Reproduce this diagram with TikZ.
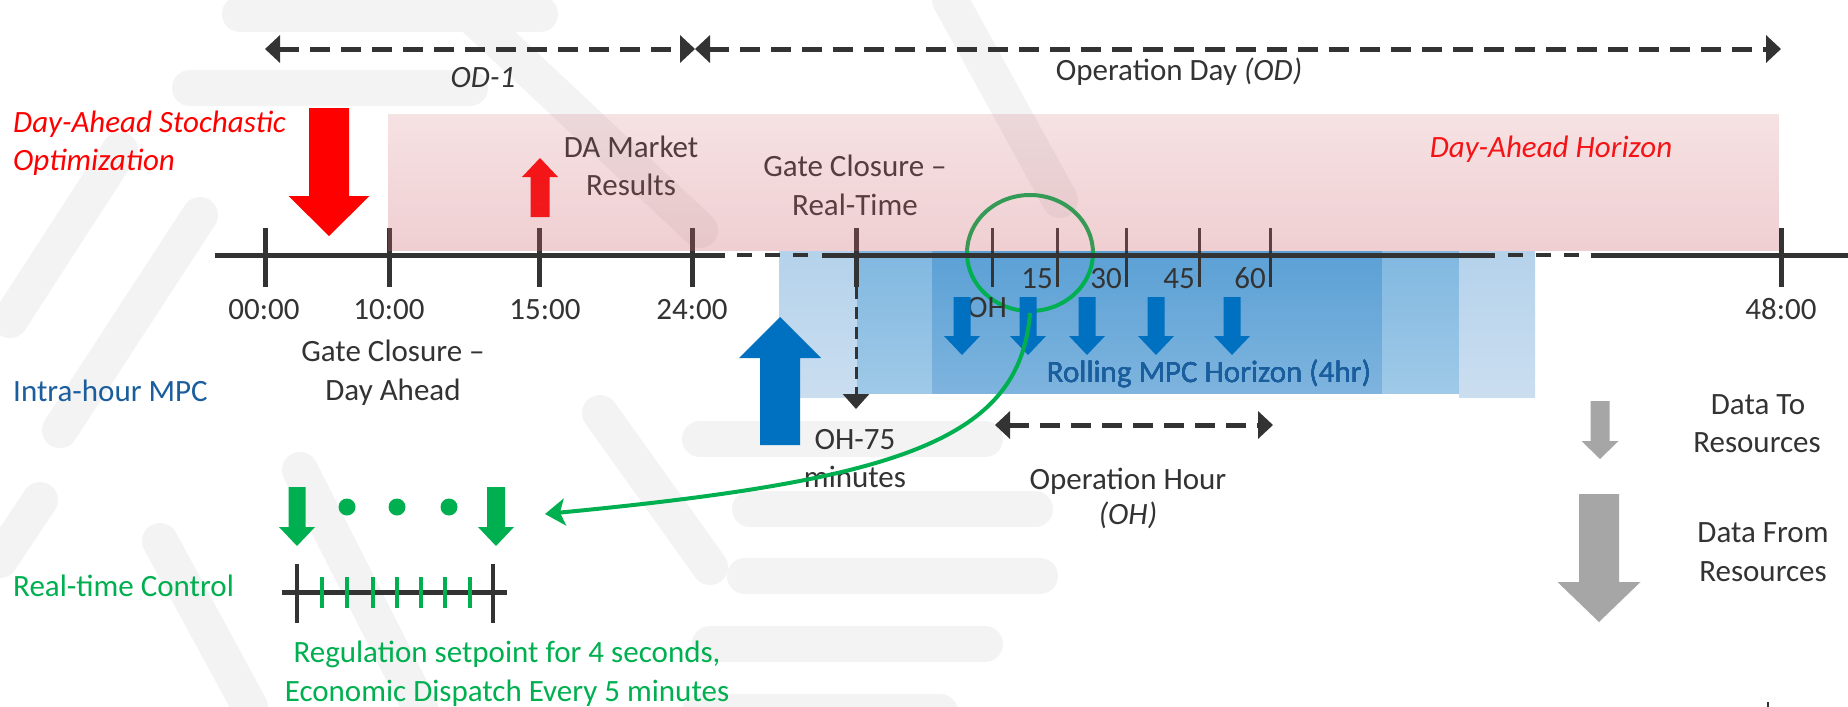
\documentclass[tikz,border=0pt]{standalone}
\usepackage{fontspec}
\setmainfont{Carlito}
\usetikzlibrary{arrows.meta,fadings,shapes.geometric}

\definecolor{ink}{HTML}{333333}
\definecolor{daRed}{HTML}{FF0000}
\definecolor{mpcBlue}{HTML}{0070C0}
\definecolor{mpcText}{HTML}{1A5E9E}
\definecolor{rtGreen}{HTML}{00B050}
\definecolor{dataGray}{HTML}{A6A6A6}
\definecolor{daPink}{RGB}{205,95,105}
\definecolor{wmGray}{HTML}{F3F3F3}
\definecolor{blueA1}{RGB}{180,210,235}
\definecolor{blueA2}{RGB}{203,222,240}
\definecolor{blueB1}{RGB}{129,184,224}
\definecolor{blueB2}{RGB}{159,201,231}
\definecolor{blueC1}{RGB}{91,160,213}
\definecolor{blueC2}{RGB}{126,180,222}

\tikzfading[name=pinkfade, top color=transparent!82, bottom color=transparent!70]

% block arrow: colour, centre x, shaft start y, head base y, tip y, shaft half width, head half width
\newcommand\blockarrow[7]{%
  \fill[#1] (#2-#6,#3) -- (#2+#6,#3) -- (#2+#6,#4) -- (#2+#7,#4) -- (#2,#5)
    -- (#2-#7,#4) -- (#2-#6,#4) -- cycle;}

\begin{document}
\begin{tikzpicture}[x=1pt,y=-1pt,
  lbl/.style={inner sep=0pt, anchor=base, font=\fontsize{31}{38}\selectfont, text=ink},
  lblw/.style={lbl, anchor=base west},
  lble/.style={lbl, anchor=base east},
  spanarrow/.style={draw=ink, line width=5pt, dash pattern=on 20pt off 11pt,
    <->, >={Triangle[length=15pt,width=27pt]}},
  tl/.style={draw=ink, line width=5pt},
  maintick/.style={draw=ink, line width=5pt},
  minortick/.style={draw=ink, line width=3pt},
  gtick/.style={draw=rtGreen, line width=4pt},
  wm/.style={draw=wmGray, line width=36pt, line cap=round}]

\useasboundingbox (0,0) rectangle (1848,707);
\fill[white] (0,0) rectangle (1848,707);

% faint background emblem stripes
\begin{scope}
  \clip (0,0) rectangle (1848,707);
  \draw[wm] (240,14) -- (540,14);
  \draw[wm] (190,88) -- (470,88);
  \draw[wm] (700,439) -- (985,439);
  \draw[wm] (750,509) -- (1035,509);
  \draw[wm] (745,576) -- (1040,576);
  \draw[wm] (710,644) -- (985,644);
  \draw[wm] (700,712) -- (940,712);
  \draw[wm] (10,320) -- (120,150);
  \draw[wm] (60,430) -- (200,215);
  \draw[wm] (0,560) -- (40,500);
  \draw[wm] (455,0) -- (700,230);
  \draw[wm] (950,0) -- (1060,200);
  \draw[wm] (600,413) -- (710,567);
  \draw[wm] (160,541) -- (250,707);
  \draw[wm] (300,470) -- (420,707);
\end{scope}

% rolling MPC horizon bands
\shade[top color=blueA1, bottom color=blueA2] (779,251) rectangle (857,397);
\shade[top color=blueB1, bottom color=blueB2] (857,251) rectangle (932,393);
\shade[top color=blueC1, bottom color=blueC2] (932,251) rectangle (1382,393);
\shade[top color=blueB1, bottom color=blueB2] (1382,251) rectangle (1459,393);
\shade[top color=blueA1, bottom color=blueA2] (1459,251) rectangle (1535,397);

% main ticks
\foreach \x in {265,389,539,692,856,1781}
  \draw[maintick] (\x,228) -- (\x,287);
% operation hour ticks
\foreach \x in {992,1057,1126,1199,1270}
  \draw[minortick] (\x,228) -- (\x,287);

% market results marker and labels under the day-ahead band
\blockarrow{daRed}{540}{217}{177}{158}{9.5}{18}
\node[lbl] (damkt) at (631,157) {DA Market};
\node[lbl] (dares) at (631,195) {Results};
\node[lbl] (gcrt1) at (855,176) {Gate Closure –};
\node[lbl] (gcrt2) at (855,215) {Real-Time};
\node[lbl, text=daRed] (dahor) at (1551,157) {\itshape Day-Ahead Horizon};

% highlighted operation hour
\node[draw=rtGreen, line width=4pt, ellipse, minimum width=126pt, minimum height=116pt,
  inner sep=0pt] (ring) at (1030,253) {};

% day-ahead horizon band
\fill[daPink, path fading=pinkfade] (388,114) rectangle (1780,251);

% time axis
\coordinate (tl0) at (215,255);
\coordinate (tl1) at (725,255);
\coordinate (tl2) at (737,255);
\coordinate (tl3) at (808,255);
\coordinate (tl4) at (822,255);
\coordinate (tl5) at (1495,255);
\coordinate (tl6) at (1508,255);
\coordinate (tl7) at (1579,255);
\coordinate (tl8) at (1591,255);
\coordinate (tl9) at (1848,255);
\draw[tl] (tl0) -- (tl1);
\draw[tl, line width=4.5pt, dash pattern=on 15pt off 13pt] (tl2) -- (tl3);
\draw[tl] (tl4) -- (tl5);
\draw[tl, line width=4.5pt, dash pattern=on 15pt off 13pt] (tl6) -- (tl7);
\draw[tl] (tl8) -- (tl9);

\node[lbl] (t00) at (264,319) {00:00};
\node[lbl] (t10) at (389,319) {10:00};
\node[lbl] (t15) at (545,319) {15:00};
\node[lbl] (t24) at (692,319) {24:00};
\node[lbl] (t48) at (1781,319) {48:00};
\node[lble] (m15) at (1053,288) {15};
\node[lble] (m30) at (1122,288) {30};
\node[lble] (m45) at (1195,288) {45};
\node[lble] (m60) at (1266,288) {60};
\node[lbl] (ohlbl) at (987,317) {OH};

% day ranges
\coordinate (odL) at (265,49);
\coordinate (odM) at (695,49);
\coordinate (odR) at (1781,49);
\draw[spanarrow] (odL) -- (odM);
\draw[spanarrow] (odM) -- (odR);
\node[lbl] (od1) at (483,87) {\itshape OD-1};
\node[lbl] (odday) at (1179,80) {Operation Day \textit{(OD)}};

% day-ahead stochastic optimization
\blockarrow{daRed}{329}{108}{196}{236}{20}{40.5}
\node[lblw, text=daRed] (daso1) at (13,132) {\itshape Day-Ahead Stochastic};
\node[lblw, text=daRed] (daso2) at (13,170) {\itshape Optimization};

\node[lbl] (gcda1) at (393,361) {Gate Closure –};
\node[lbl] (gcda2) at (393,400) {Day Ahead};

% intra-hour MPC
\node[lblw, text=mpcText] (mpc) at (13,401) {Intra-hour MPC};
\blockarrow{mpcBlue}{780}{445}{358}{317}{20}{41}
\coordinate (rtA) at (856,287);
\coordinate (rtB) at (856,409);
\draw[ink, line width=3pt, dash pattern=on 12pt off 8pt,
  -{Triangle[length=15pt,width=26pt]}] (rtA) -- (rtB);
\node[lbl] (oh75a) at (855,449) {OH-75};
\node[lbl] (oh75b) at (855,487) {minutes};
\foreach \x in {962,1028,1087,1156,1232}
  \blockarrow{mpcBlue}{\x}{297}{336}{355}{8.5}{18}
\node[lbl, text=mpcText] (rolling) at (1209,382) {Rolling MPC Horizon (4hr)};

% operation hour
\coordinate (ohL) at (995,425);
\coordinate (ohR) at (1273,425);
\draw[spanarrow] (ohL) -- (ohR);
\node[lbl] (ophr1) at (1128,489) {Operation Hour};
\node[lbl] (ophr2) at (1128,524) {\itshape (OH)};

% legend
\blockarrow{dataGray}{1600}{401}{441}{459}{9.5}{18.5}
\blockarrow{dataGray}{1599}{494}{582}{622}{20}{41.5}
\node[lbl] (dto1) at (1758,414) {Data To};
\node[lbl] (dto2) at (1757,452) {Resources};
\node[lbl] (dfr1) at (1763,542) {Data From};
\node[lbl] (dfr2) at (1763,581) {Resources};

% real-time control
\node[lblw, text=rtGreen] (rtc) at (13,596) {Real-time Control};
\blockarrow{rtGreen}{297}{487}{527}{546}{8.5}{18}
\blockarrow{rtGreen}{496}{487}{527}{546}{9}{18}
\foreach \x in {347,397,449}
  \fill[rtGreen] (\x,507) circle[radius=8.5pt];
\coordinate (rcL) at (282,592);
\coordinate (rcR) at (507,592);
\draw[ink, line width=5pt] (rcL) -- (rcR);
\foreach \x in {322,347,373,397,421,445,470}
  \draw[gtick] (\x,577) -- (\x,608);
\draw[ink, line width=4pt] (297,564) -- (297,623);
\draw[ink, line width=4pt] (493,564) -- (493,623);
\node[lbl, text=rtGreen] (reg1) at (507,662) {Regulation setpoint for 4 seconds,};
\node[lbl, text=rtGreen] (reg2) at (507,701) {Economic Dispatch Every 5 minutes};

% zoom from the operation hour to real-time control
\coordinate (rtIn) at (545,514);
\draw[rtGreen, line width=4pt, -{Stealth[length=20pt,width=27pt,inset=5pt]}]
  (ring.south) .. controls (1020,440) and (900,480) .. (rtIn);

\draw[ink, line width=1.5pt] (1768,702) -- (1768,707);
\end{tikzpicture}
\end{document}
